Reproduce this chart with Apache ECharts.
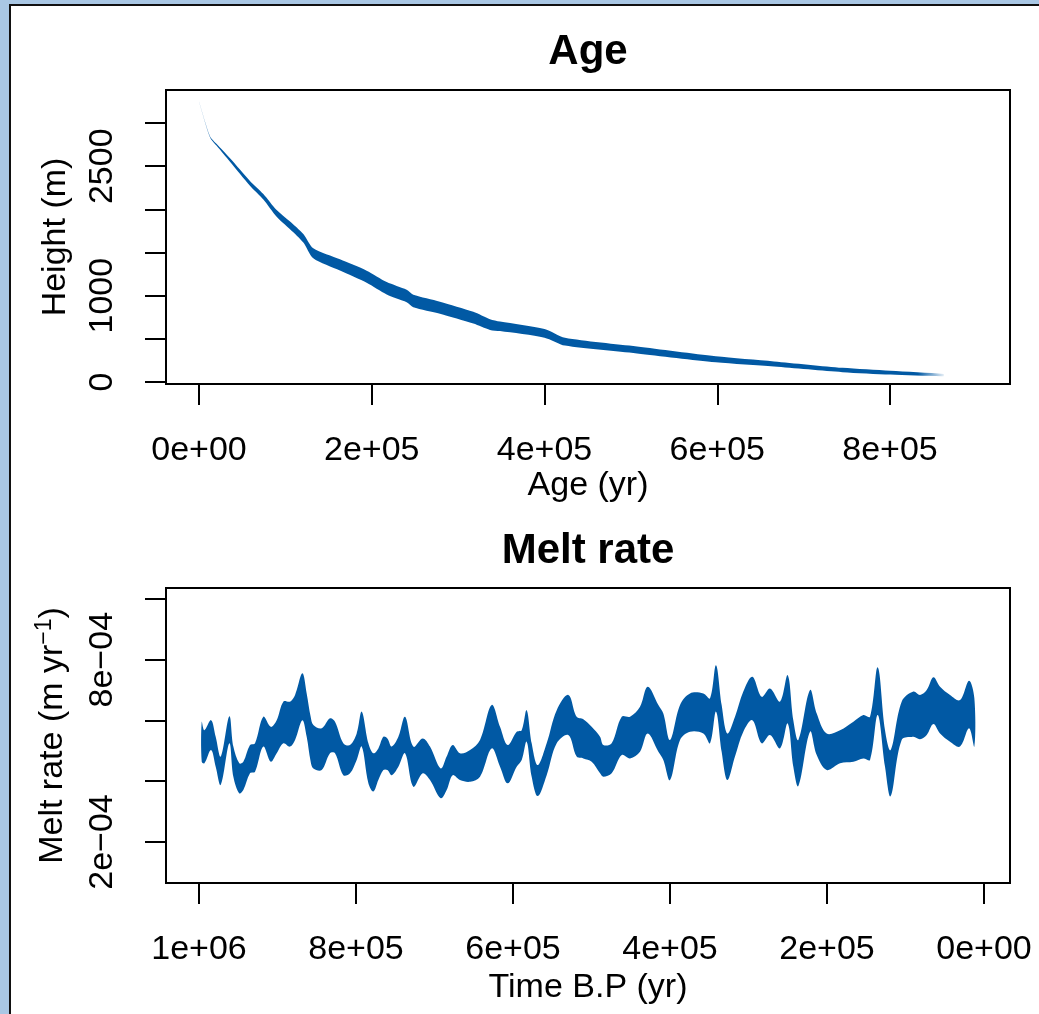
<!DOCTYPE html>
<html><head><meta charset="utf-8">
<script src="https://cdn.jsdelivr.net/npm/echarts@6/dist/echarts.min.js"></script>
<style>
html,body{margin:0;padding:0;width:1039px;height:1014px;overflow:hidden;background:#a9c7e4;}
#panel{position:absolute;left:9px;top:4px;width:1100px;height:1100px;background:#fff;border-left:2px solid #111;border-top:2px solid #111;}
#chart{position:absolute;left:0;top:0;width:1039px;height:1014px;}
</style></head><body><div id="panel"></div><div id="chart"></div>
<script>
// ---- Age panel data ----
const ageYr = [0, 12700, 20500, 35900, 59000, 74500, 89900, 109200, 120800, 132300, 163200, 194100, 217300, 240400, 248100, 279000, 317600, 336900, 348500, 400000, 423700, 507100, 598300, 665700, 745000, 800400, 862000];
const heightLow = [3245, 2837, 2736, 2552, 2274, 2115, 1916, 1736, 1615, 1433, 1291, 1150, 1014, 924, 867, 791, 677, 603, 590, 514, 422, 331, 228, 179, 114, 86, 68];
const heightHigh = [3250, 2847, 2756, 2592, 2330, 2179, 1992, 1826, 1715, 1549, 1421, 1290, 1158, 1068, 1011, 931, 813, 727, 700, 614, 512, 411, 298, 239, 164, 130, 92];
const ageTicks = [0, 200000, 400000, 600000, 800000];
const ageTickLabels = ['0e+00', '2e+05', '4e+05', '6e+05', '8e+05'];
const heightTicks = [0, 500, 1000, 1500, 2000, 2500, 3000];
const heightLabelValues = [0, 1000, 2500];
const heightLabels = ['0', '1000', '2500'];

// ---- Melt rate panel data ----
const timeBP = [996500, 993100, 984600, 978700, 972300, 961300, 956200, 948600, 943500, 935000,
  928600, 918000, 908600, 901000, 892500, 884000, 877600, 868300, 862800, 857700,
  854300, 843700, 833100, 826700, 816100, 807600, 799100, 792700, 784200, 777900,
  771500, 765100, 760000, 754500, 746000, 737500, 726900, 715000, 705700, 692100,
  684500, 676800, 667500, 654700, 642000, 627100, 616500, 606800, 595300, 588900,
  582600, 576200, 568500, 557100, 544300, 529500, 518900, 510400, 499800, 489100,
  484900, 474300, 461500, 450900, 438200, 428400, 414800, 408500, 400000, 387200,
  374500, 357500, 349000, 341400, 334200, 326900, 317200, 306600, 295100, 283200,
  272600, 259900, 250100, 242900, 236500, 221600, 213100, 200400, 183400, 166400,
  153700, 145200, 135400, 126100, 118900, 104900, 90000, 81500, 73000, 64500,
  56000, 43300, 30600, 19100, 12300];
const meltHigh = [5.96e-4, 5.68e-4, 6.01e-4, 5.46e-4, 4.81e-4, 6.14e-4, 5.14e-4, 4.59e-4, 4.64e-4, 5.19e-4,
  5.25e-4, 6.12e-4, 5.79e-4, 6.01e-4, 6.62e-4, 6.62e-4, 6.84e-4, 7.55e-4, 6.89e-4, 6.12e-4,
  5.85e-4, 5.74e-4, 6.07e-4, 5.96e-4, 5.25e-4, 5.19e-4, 5.57e-4, 6.29e-4, 5.25e-4, 4.92e-4,
  5.08e-4, 5.46e-4, 5.41e-4, 5.14e-4, 5.46e-4, 6.12e-4, 5.14e-4, 5.41e-4, 5.14e-4, 4.42e-4,
  4.81e-4, 5.19e-4, 4.92e-4, 5.03e-4, 5.36e-4, 6.51e-4, 5.79e-4, 5.19e-4, 5.63e-4, 5.68e-4,
  6.34e-4, 5.25e-4, 4.53e-4, 5.25e-4, 6.34e-4, 6.84e-4, 6.12e-4, 6.04e-4, 5.79e-4, 5.46e-4,
  5.19e-4, 5.25e-4, 6.12e-4, 6.12e-4, 6.45e-4, 7.11e-4, 6.51e-4, 6.23e-4, 5.36e-4, 6.51e-4,
  6.89e-4, 6.89e-4, 6.73e-4, 7.82e-4, 6.51e-4, 5.57e-4, 6.12e-4, 6.95e-4, 7.44e-4, 6.78e-4,
  7.05e-4, 6.62e-4, 7.49e-4, 6.01e-4, 5.36e-4, 7.00e-4, 6.23e-4, 5.57e-4, 5.68e-4, 5.96e-4,
  6.18e-4, 6.12e-4, 7.75e-4, 5.68e-4, 5.03e-4, 6.62e-4, 6.95e-4, 6.84e-4, 7.00e-4, 7.42e-4,
  7.11e-4, 6.84e-4, 6.67e-4, 7.31e-4, 6.73e-4];
const meltLow = [4.64e-4, 4.59e-4, 5.03e-4, 4.48e-4, 3.88e-4, 5.25e-4, 4.15e-4, 3.60e-4, 3.71e-4, 4.26e-4,
  4.31e-4, 5.14e-4, 4.64e-4, 4.92e-4, 5.25e-4, 5.14e-4, 5.36e-4, 6.01e-4, 5.46e-4, 4.64e-4,
  4.42e-4, 4.37e-4, 4.92e-4, 4.92e-4, 4.20e-4, 4.26e-4, 4.70e-4, 5.14e-4, 3.93e-4, 3.66e-4,
  4.04e-4, 4.37e-4, 4.37e-4, 4.20e-4, 4.48e-4, 4.92e-4, 3.82e-4, 4.26e-4, 4.04e-4, 3.44e-4,
  3.71e-4, 4.20e-4, 4.04e-4, 3.98e-4, 4.15e-4, 5.08e-4, 4.48e-4, 3.93e-4, 4.48e-4, 4.70e-4,
  5.30e-4, 4.15e-4, 3.51e-4, 4.20e-4, 5.25e-4, 5.52e-4, 4.81e-4, 4.75e-4, 4.64e-4, 4.26e-4,
  4.15e-4, 4.26e-4, 4.86e-4, 4.75e-4, 4.97e-4, 5.57e-4, 4.97e-4, 4.70e-4, 4.04e-4, 5.36e-4,
  5.63e-4, 5.57e-4, 5.25e-4, 6.29e-4, 4.97e-4, 4.04e-4, 4.81e-4, 5.63e-4, 6.01e-4, 5.25e-4,
  5.52e-4, 5.08e-4, 5.90e-4, 4.48e-4, 3.84e-4, 5.63e-4, 4.86e-4, 4.37e-4, 4.59e-4, 4.64e-4,
  4.75e-4, 4.70e-4, 6.18e-4, 4.48e-4, 3.51e-4, 5.36e-4, 5.46e-4, 5.38e-4, 5.52e-4, 5.88e-4,
  5.57e-4, 5.30e-4, 5.14e-4, 5.74e-4, 5.14e-4];
const timeTicks = [0, 200000, 400000, 600000, 800000, 1000000];
const timeTickLabels = ['0e+00', '2e+05', '4e+05', '6e+05', '8e+05', '1e+06'];
const meltTicks = [2e-4, 4e-4, 6e-4, 8e-4, 1e-3];
const meltLabelValues = [2e-4, 8e-4];
const meltLabels = ['2e\u221204', '8e\u221204'];

const BLUE = '#0159a4';
const FONT = '"Liberation Sans", Arial, Helvetica, sans-serif';

function lookup(vals, labels) {
  return function (v) {
    let best = 0, d = Infinity;
    vals.forEach((x, i) => { const dd = Math.abs(x - v); if (dd < d) { d = dd; best = i; } });
    return labels[best];
  };
}

// Band renderer: polygon through upper edge then lower edge (reversed), all via api.coord
function bandRenderer(xs, lo, hi, fill, smooth) {
  return function (params, api) {
    if (params.dataIndex !== 0) return null;
    const pts = [];
    for (let i = 0; i < xs.length; i++) pts.push(api.coord([xs[i], hi[i]]));
    for (let i = xs.length - 1; i >= 0; i--) pts.push(api.coord([xs[i], lo[i]]));
    return {type: 'polygon', shape: {points: pts, smooth: smooth},
            style: {fill: fill, stroke: null}, silent: true};
  };
}

const chart = echarts.init(document.getElementById('chart'), null, {renderer: 'canvas'});
const tickStyle = {show: true, length: 21, inside: false, lineStyle: {color: '#000', width: 2}};
const labelBase = {color: '#000', fontSize: 34, fontFamily: FONT};
const axisLineOff = {show: false, onZero: false};

chart.setOption({
  animation: false,
  backgroundColor: 'transparent',
  textStyle: {fontFamily: FONT},
  title: [
    {text: 'Age', left: 583, top: 26, textAlign: 'center',
     textStyle: {fontSize: 42, fontWeight: 'bold', color: '#000', fontFamily: FONT}},
    {text: 'Melt rate', left: 583, top: 525, textAlign: 'center',
     textStyle: {fontSize: 42, fontWeight: 'bold', color: '#000', fontFamily: FONT}}
  ],
  grid: [
    {left: 166, top: 90, width: 844, height: 294, show: true, borderColor: '#000', borderWidth: 2, backgroundColor: '#fff', containLabel: false},
    {left: 166, top: 588, width: 844, height: 295, show: true, borderColor: '#000', borderWidth: 2, backgroundColor: '#fff', containLabel: false}
  ],
  xAxis: [
    {gridIndex: 0, type: 'value', min: -38200, max: 938900,
     axisLine: axisLineOff, splitLine: {show: false},
     axisTick: Object.assign({customValues: ageTicks}, tickStyle),
     axisLabel: Object.assign({customValues: ageTicks, margin: 50, formatter: lookup(ageTicks, ageTickLabels)}, labelBase),
     name: 'Age (yr)', nameLocation: 'middle', nameGap: 84,
     nameTextStyle: {color: '#000', fontSize: 34, fontFamily: FONT}},
    {gridIndex: 1, type: 'value', min: -33100, max: 1042000, inverse: true,
     axisLine: axisLineOff, splitLine: {show: false},
     axisTick: Object.assign({customValues: timeTicks}, tickStyle),
     axisLabel: Object.assign({customValues: timeTicks, margin: 50, formatter: lookup(timeTicks, timeTickLabels)}, labelBase),
     name: 'Time B.P (yr)', nameLocation: 'middle', nameGap: 88,
     nameTextStyle: {color: '#000', fontSize: 34, fontFamily: FONT}}
  ],
  yAxis: [
    {gridIndex: 0, type: 'value', min: -23, max: 3383,
     axisLine: axisLineOff, splitLine: {show: false},
     axisTick: Object.assign({customValues: heightTicks}, tickStyle),
     axisLabel: Object.assign({customValues: heightLabelValues, rotate: 90, margin: 46, formatter: lookup(heightLabelValues, heightLabels)}, labelBase),
     name: 'Height (m)', nameLocation: 'middle', nameGap: 93, nameRotate: 90,
     nameTextStyle: {color: '#000', fontSize: 34, fontFamily: FONT}},
    {gridIndex: 1, type: 'value', min: 0.65e-4, max: 10.36e-4,
     axisLine: axisLineOff, splitLine: {show: false},
     axisTick: Object.assign({customValues: meltTicks}, tickStyle),
     axisLabel: Object.assign({customValues: meltLabelValues, rotate: 90, margin: 46, formatter: lookup(meltLabelValues, meltLabels)}, labelBase),
     name: '{a|Melt rate (m yr}{s|\u22121}{a|)}', nameLocation: 'middle', nameGap: 93, nameRotate: 90,
     nameTextStyle: {color: '#000', fontSize: 34, fontFamily: FONT,
       rich: {a: {fontSize: 34, color: '#000', fontFamily: FONT, lineHeight: 40},
              s: {fontSize: 23, color: '#000', fontFamily: FONT, verticalAlign: 'top', lineHeight: 24}}}}
  ],
  series: [
    {type: 'custom', xAxisIndex: 0, yAxisIndex: 0, clip: true, silent: true,
     encode: {x: 0, y: [1, 2]},
     renderItem: bandRenderer(ageYr, heightLow, heightHigh,
       new echarts.graphic.LinearGradient(0, 0, 1, 0, [
         {offset: 0, color: 'rgba(1,89,164,0.25)'},
         {offset: 0.015, color: BLUE},
         {offset: 0.965, color: BLUE},
         {offset: 1, color: 'rgba(1,89,164,0.1)'}]), 0.25),
     data: ageYr.map((a, i) => [a, heightLow[i], heightHigh[i]])},
    {type: 'custom', xAxisIndex: 1, yAxisIndex: 1, clip: true, silent: true,
     encode: {x: 0, y: [1, 2]},
     renderItem: bandRenderer(timeBP, meltLow, meltHigh, BLUE, 0.35),
     data: timeBP.map((t, i) => [t, meltLow[i], meltHigh[i]])}
  ]
});
</script></body></html>
